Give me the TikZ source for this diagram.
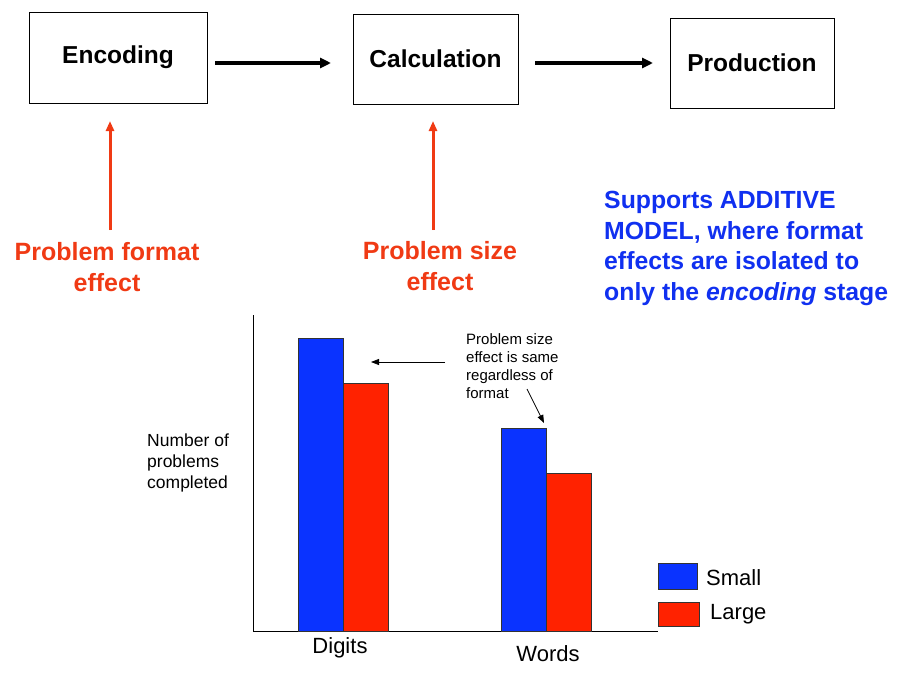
\documentclass[tikz,border=0pt]{standalone}
\usepackage{fontspec}
\setmainfont{Liberation Sans}
\usetikzlibrary{arrows.meta}
\definecolor{barblue}{HTML}{0A33FF}
\definecolor{barred}{HTML}{FF2200}
\definecolor{txtblue}{HTML}{1030F0}
\definecolor{txtred}{HTML}{F03A14}
\tikzset{
  stagebox/.style={draw, line width=0.8pt, inner sep=0pt, font=\fontsize{24.5}{28}\selectfont\bfseries},
  flowarrow/.style={-{Triangle[length=11pt,width=10pt]}, line width=3.6pt},
  redarrow/.style={-{Triangle[length=10pt,width=8pt]}, line width=3pt, draw=txtred, fill=txtred},
  redlabel/.style={text=txtred, align=center, font=\fontsize{25}{31}\selectfont\bfseries},
  bluelabel/.style={text=txtblue, align=left, font=\fontsize{24.8}{30.5}\selectfont\bfseries, anchor=north west, inner sep=0pt},
  bar/.style={draw=black!80, line width=0.6pt},
  smalltxt/.style={font=\fontsize{15}{18}\selectfont, align=left, anchor=north west, inner sep=0pt},
  thinarrow/.style={-{Triangle[length=8pt,width=6pt]}, line width=0.8pt},
}
\begin{document}
\begin{tikzpicture}[x=1pt,y=-1pt]
\useasboundingbox (0,0) rectangle (909,677);
% stage boxes
\node[stagebox, minimum width=178pt, minimum height=91pt] (enc) at (118,57.5) {Encoding};
\node[stagebox, minimum width=165pt, minimum height=90pt] (calc) at (435.5,59) {Calculation};
\node[stagebox, minimum width=164pt, minimum height=90pt] (prod) at (752,63) {Production};
\coordinate (a1s) at (215,63); \coordinate (a1e) at (331,63);
\coordinate (a2s) at (535,63); \coordinate (a2e) at (653,63);
\draw[flowarrow] (a1s) -- (a1e);
\draw[flowarrow] (a2s) -- (a2e);
% red labels and arrows
\node[redlabel] (pfe) at (107,267) {Problem format\\effect};
\node[redlabel] (pse) at (440,266) {Problem size\\effect};
\coordinate (r1s) at (110,230); \coordinate (r1e) at (110,121);
\coordinate (r2s) at (433,230); \coordinate (r2e) at (433,121);
\draw[redarrow] (r1s) -- (r1e);
\draw[redarrow] (r2s) -- (r2e);
% blue text
\node[bluelabel] (sup) at (604,191) {Supports ADDITIVE\\MODEL, where format\\effects are isolated to\\only the \textit{encoding} stage};
% chart axes
\coordinate (yt) at (253,315); \coordinate (org) at (253,631); \coordinate (xe) at (658,631);
\draw[line width=0.9pt] (yt) -- (org) -- (xe);
% bars
\draw[bar, fill=barblue] (298,631) rectangle (343,338);
\draw[bar, fill=barred] (343,631) rectangle (388,383);
\draw[bar, fill=barblue] (501,631) rectangle (546,428);
\draw[bar, fill=barred] (546,631) rectangle (591,473);
% labels
\node[font=\fontsize{22}{26}\selectfont] (dig) at (340,648) {Digits};
\node[font=\fontsize{22}{26}\selectfont] (wor) at (548,654) {Words};
\node[smalltxt, font=\fontsize{17.5}{21}\selectfont] (ylab) at (147,434) {Number of\\problems\\completed};
% annotation
\node[smalltxt] (ann) at (466,333) {Problem size\\effect is same\\regardless of\\format};
\coordinate (h1) at (445,362); \coordinate (h2) at (371,362);
\draw[thinarrow] (h1) -- (h2);
\coordinate (d1) at (527,389); \coordinate (d2) at (544,423);
\draw[thinarrow] (d1) -- (d2);
% legend
\draw[bar, fill=barblue] (658,563) rectangle (697,589);
\draw[bar, fill=barred] (658,602) rectangle (699,626);
\node[anchor=west, inner sep=0pt, font=\fontsize{22}{26}\selectfont] (lsm) at (706,578) {Small};
\node[anchor=west, inner sep=0pt, font=\fontsize{22}{26}\selectfont] (llg) at (710,614) {Large};
\end{tikzpicture}
\end{document}
